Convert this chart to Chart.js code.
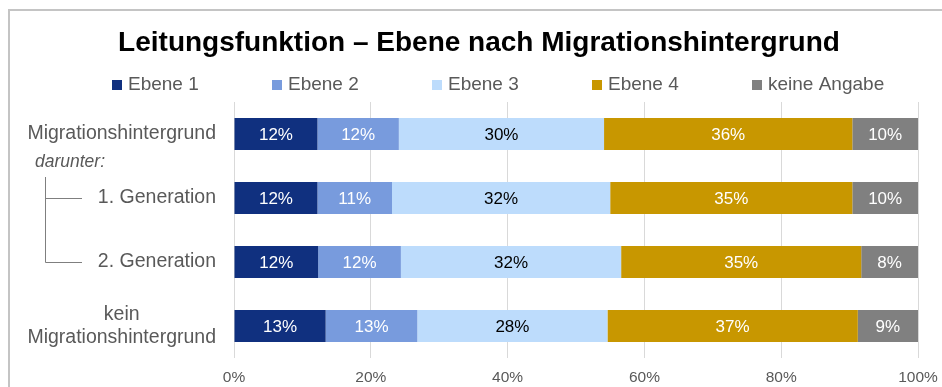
<!DOCTYPE html>
<html lang="de">
<head>
<meta charset="utf-8">
<title>Leitungsfunktion – Ebene nach Migrationshintergrund</title>
<script src="https://cdn.jsdelivr.net/npm/chart.js@4/dist/chart.umd.min.js"></script>
<style>
   html, body { margin: 0; padding: 0; background: #ffffff; }
   #chartBox { width: 942px; height: 387px; }
</style>
</head>
<body>
<div id="chartBox"><canvas id="barChart" width="942" height="387"></canvas></div>
<script>
/*
* the shares per level, one array per level, in the order of the rows below.
*/
const categories = ['Migrationshintergrund', '1. Generation', '2. Generation',
   ['kein', 'Migrationshintergrund']];
const levelNames = ['Ebene 1', 'Ebene 2', 'Ebene 3', 'Ebene 4', 'keine Angabe'];
const ebene1 = [12.2, 12.2, 12.3, 13.4];
const ebene2 = [11.9, 10.9, 12.1, 13.4];
const ebene3 = [30.0, 31.9, 32.2, 27.8];
const ebene4 = [36.3, 35.4, 35.1, 36.6];
const keineAngabe = [9.6, 9.6, 8.3, 8.8];
const xTicks = [0, 20, 40, 60, 80, 100];

const levelColors = ['#10307f', '#789bdd', '#bddcfc', '#c89700', '#808080'];
const labelColors = ['#ffffff', '#ffffff', '#000000', '#ffffff', '#ffffff'];
const fontFamily = "'Liberation Sans', Arial, sans-serif";
const textGrey = '#595959';

Chart.defaults.font.family = fontFamily;

/*
* white background plus the thin frame along the top and left edge.
*/
const framePlugin = {
   id: 'frame',
   beforeDraw(chart) {
      const ctx = chart.ctx;
      ctx.save();
      ctx.fillStyle = '#ffffff';
      ctx.fillRect(0, 0, chart.width, chart.height);
      ctx.fillStyle = '#c4c4c4';
      ctx.fillRect(8, 9, chart.width - 8, 2);
      ctx.fillRect(8, 9, 2, chart.height - 9);
      ctx.restore();
   }
};

/*
* title and legend row, the legend items sit on fixed 160px columns.
*/
const headerPlugin = {
   id: 'header',
   afterDraw(chart) {
      const ctx = chart.ctx;
      ctx.save();
      ctx.fillStyle = '#000000';
      ctx.font = `bold 28px ${fontFamily}`;
      ctx.textAlign = 'center';
      ctx.textBaseline = 'middle';
      ctx.fillText('Leitungsfunktion – Ebene nach Migrationshintergrund', 479, 43);

      ctx.font = `19px ${fontFamily}`;
      ctx.textAlign = 'left';
      chart.data.datasets.forEach((ds, i) => {
         const x = 112 + i * 160;
         ctx.fillStyle = ds.backgroundColor;
         ctx.fillRect(x, 80, 10, 10);
         ctx.fillStyle = textGrey;
         ctx.fillText(ds.label, x + 16, 85);
      });
      ctx.restore();
   }
};

/*
* row labels on the left, with the "darunter:" note and the bracket
* joining both generation rows.
*/
const rowLabelPlugin = {
   id: 'rowLabels',
   afterDraw(chart) {
      const ctx = chart.ctx;
      const yScale = chart.scales.y;
      const right = 216;
      ctx.save();
      ctx.fillStyle = textGrey;
      ctx.font = `19.5px ${fontFamily}`;
      ctx.textBaseline = 'middle';
      categories.forEach((cat, i) => {
         const y = yScale.getPixelForValue(i);
         if (Array.isArray(cat)) {
            const widest = Math.max(...cat.map(line => ctx.measureText(line).width));
            const center = right - widest / 2;
            ctx.textAlign = 'center';
            cat.forEach((line, j) => {
               ctx.fillText(line, center, y + (j - (cat.length - 1) / 2) * 22.7);
            });
         } else {
            ctx.textAlign = 'right';
            ctx.fillText(cat, right, y);
         }
      });

      const row1 = yScale.getPixelForValue(0);
      const row2 = yScale.getPixelForValue(1);
      const row3 = yScale.getPixelForValue(2);
      ctx.font = `italic 17.5px ${fontFamily}`;
      ctx.textAlign = 'left';
      ctx.fillText('darunter:', 35, row1 + 28);

      ctx.strokeStyle = '#7f7f7f';
      ctx.lineWidth = 1;
      ctx.beginPath();
      ctx.moveTo(45.5, row2 - 21);
      ctx.lineTo(45.5, row3 + 0.5);
      ctx.lineTo(82, row3 + 0.5);
      ctx.moveTo(45.5, row2 + 0.5);
      ctx.lineTo(82, row2 + 0.5);
      ctx.stroke();
      ctx.restore();
   }
};

/*
* percentage written in the middle of every segment.
*/
const valueLabelPlugin = {
   id: 'valueLabels',
   afterDatasetsDraw(chart) {
      const ctx = chart.ctx;
      ctx.save();
      ctx.font = `17px ${fontFamily}`;
      ctx.textAlign = 'center';
      ctx.textBaseline = 'middle';
      chart.data.datasets.forEach((ds, i) => {
         const meta = chart.getDatasetMeta(i);
         ctx.fillStyle = labelColors[i];
         meta.data.forEach((bar, j) => {
            const cx = (bar.x + bar.base) / 2;
            ctx.fillText(Math.round(ds.data[j]) + '%', cx, bar.y + 1);
         });
      });
      ctx.restore();
   }
};

function createBarChart() {
   const canvas = document.querySelector('#barChart');
   const series = [ebene1, ebene2, ebene3, ebene4, keineAngabe];

   const chartData = {
      labels: categories,
      datasets: series.map((values, i) => ({
         label: levelNames[i],
         data: values,
         backgroundColor: levelColors[i],
         borderWidth: 0,
         categoryPercentage: 1,
         barPercentage: 0.5
      }))
   };

   const chartOptions = {
      indexAxis: 'y',
      responsive: false,
      animation: false,
      layout: {
         padding: { top: 102, right: 24, bottom: 0, left: 0 }
      },
      scales: {
         x: {
            stacked: true,
            min: 0,
            max: 100,
            afterBuildTicks: scale => {
               scale.ticks = xTicks.map(v => ({ value: v }));
            },
            afterFit: scale => {
               scale.height = 29;
               scale.paddingLeft = 0;
               scale.paddingRight = 0;
            },
            grid: {
               color: '#d9d9d9',
               drawTicks: false
            },
            border: { display: false },
            ticks: {
               color: textGrey,
               padding: 10,
               font: { size: 15.5 },
               callback: value => value + '%'
            }
         },
         y: {
            stacked: true,
            afterFit: scale => {
               scale.width = 234;
            },
            grid: { display: false },
            border: { display: false },
            ticks: { display: false }
         }
      },
      plugins: {
         legend: { display: false },
         title: { display: false },
         tooltip: { enabled: false }
      }
   };

   return new Chart(canvas, {
      type: 'bar',
      data: chartData,
      options: chartOptions,
      plugins: [framePlugin, headerPlugin, rowLabelPlugin, valueLabelPlugin]
   });
}

createBarChart();
</script>
</body>
</html>
